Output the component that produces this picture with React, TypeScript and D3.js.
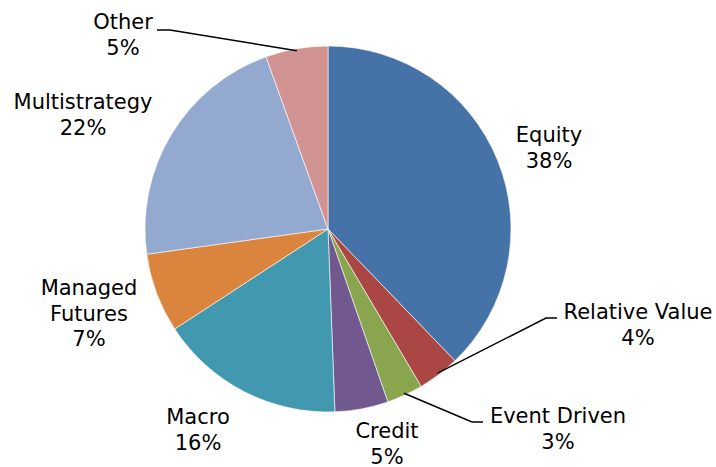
import React from "react";
import * as d3 from "d3";

const categories = ["Equity", "Relative Value", "Event Driven", "Credit", "Macro", "Managed Futures", "Multistrategy", "Other"];
const values = [37.8, 3.7, 3.2, 4.7, 16.4, 7.0, 21.7, 5.5];
const percentLabels = ["38%", "4%", "3%", "5%", "16%", "7%", "22%", "5%"];
const nameLines = [["Equity"], ["Relative Value"], ["Event Driven"], ["Credit"], ["Macro"], ["Managed", "Futures"], ["Multistrategy"], ["Other"]];
const colors = ["#4572A7", "#AA4643", "#89A54E", "#71588F", "#4198AF", "#DB843D", "#93A9CF", "#D19392"];
const labelPos: [number, number][] = [[549, 142], [638, 319], [558, 423], [387, 438], [198, 424], [89, 295], [83, 109], [123, 29]];
const leaders: Record<number, { elbow: [number, number]; end: [number, number] }> = {
  1: { elbow: [546, 318], end: [557, 318] },
  2: { elbow: [472, 422], end: [483, 422] },
  7: { elbow: [170, 30], end: [157, 30] },
};

export default function App() {
  const W = 716, H = 467;
  const cx = 328, cy = 229, r = 183;
  const pie = d3.pie<number>().sort(null).value((d) => d)(values);
  const arc = d3.arc<d3.PieArcDatum<number>>().innerRadius(0).outerRadius(r);
  const fs = 21;
  const lh = 25.5;
  return (
    <svg width={W} height={H} style={{ position: "absolute", left: 0, top: 0, background: "#fff" }}>
      <g transform={`translate(${cx},${cy})`}>
        {pie.map((p, i) => (
          <path key={categories[i]} d={arc(p) || ""} fill={colors[i]} stroke="#fff" strokeWidth={0.6} />
        ))}
      </g>
      {Object.entries(leaders).map(([k, l]) => {
        const i = +k;
        const p = pie[i];
        const mid = (p.startAngle + p.endAngle) / 2;
        const sx = cx + Math.sin(mid) * (r - 2);
        const sy = cy - Math.cos(mid) * (r - 2);
        return (
          <polyline key={k} points={`${sx},${sy} ${l.elbow[0]},${l.elbow[1]} ${l.end[0]},${l.end[1]}`} fill="none" stroke="#000" strokeWidth={1.5} />
        );
      })}
      {nameLines.map((lines, i) => (
        <text key={i} x={labelPos[i][0]} y={labelPos[i][1]} textAnchor="middle" fontFamily="DejaVu Sans, Verdana, sans-serif" fontSize={fs} fill="#000">
          {[...lines, percentLabels[i]].map((t, j) => (
            <tspan key={j} x={labelPos[i][0]} dy={j === 0 ? 0 : lh}>{t}</tspan>
          ))}
        </text>
      ))}
    </svg>
  );
}
